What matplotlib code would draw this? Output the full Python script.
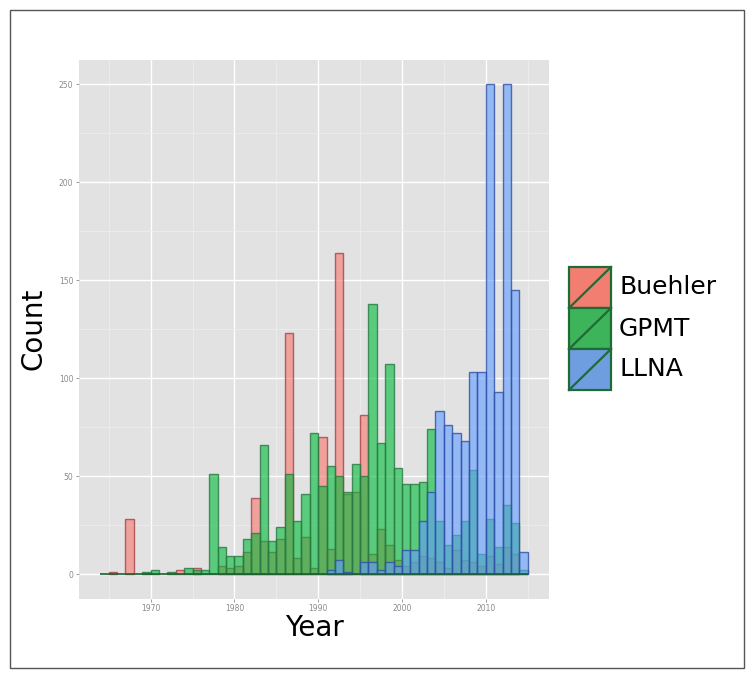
"""
Overlaid yearly histograms (Buehler, GPMT, LLNA), ggplot2-like look.
"""

import numpy as np
import matplotlib.pyplot as plt
from matplotlib.patches import Rectangle
from matplotlib.lines import Line2D

plt.rcParams.update({
    'font.family': 'DejaVu Sans',
})

# ---------------------------------------------------------------------------
# Data (counts per year, bins [year, year + 1))
# ---------------------------------------------------------------------------
years = list(range(1964, 2015))

buehler = [0, 1, 0, 28, 0, 0, 0, 0, 0, 2,
           0, 3, 0, 0, 4, 3, 4, 11, 39, 17,
           11, 18, 123, 8, 19, 3, 70, 13, 164, 41,
           42, 81, 10, 23, 15, 7, 4, 6, 9, 8,
           6, 3, 12, 7, 6, 4, 9, 5, 14, 10,
           0]

gpmt = [0, 0, 0, 0, 0, 1, 2, 0, 1, 0,
        3, 2, 2, 51, 14, 9, 9, 18, 21, 66,
        17, 24, 51, 27, 41, 72, 45, 55, 50, 42,
        56, 50, 138, 67, 107, 54, 46, 46, 47, 74,
        27, 15, 20, 27, 53, 10, 28, 14, 35, 26,
        2]

llna = [0, 0, 0, 0, 0, 0, 0, 0, 0, 0,
        0, 0, 0, 0, 0, 0, 0, 0, 0, 0,
        0, 0, 0, 0, 0, 0, 0, 2, 7, 1,
        0, 6, 6, 2, 6, 4, 12, 12, 27, 42,
        83, 76, 72, 68, 103, 103, 250, 93, 250, 145,
        11]

groups = ["Buehler", "GPMT", "LLNA"]
fills = ["#F8766D", "#00BA38", "#619CFF"]
edges = ["#A8424A", "#2A7A44", "#3050A8"]

x_ticks = [1970, 1980, 1990, 2000, 2010]
y_ticks = [0, 50, 100, 150, 200, 250]

# ---------------------------------------------------------------------------
W, H = 754, 678
fig = plt.figure(figsize=(W / 100, H / 100), dpi=100, facecolor="white")

# panel in pixels: left 79, right 549, top 59.5, bottom 598.5
ax = fig.add_axes([79 / W, 1 - 598.5 / H, (549 - 79) / W, (598.5 - 59.5) / H])
ax.set_facecolor("#E2E2E2")

x0, x1 = years[0], years[-1] + 1
span = x1 - x0
ax.set_xlim(x0 - 0.05 * span, x1 + 0.05 * span)
ax.set_ylim(-12.5, 262.5)

# grid
ax.set_xticks(x_ticks)
ax.set_yticks(y_ticks)
ax.set_xticks(np.arange(1965, 2020, 10), minor=True)
ax.set_yticks(np.arange(25, 250, 50), minor=True)
ax.grid(which="major", color="white", lw=1.0, zorder=0)
ax.grid(which="minor", color="#EFEFEF", lw=0.5, zorder=0)
ax.set_axisbelow(True)

# bars, drawn in group order so later groups sit on top
for vals, fc, ec in zip([buehler, gpmt, llna], fills, edges):
    v = np.array(vals, dtype=float)
    yrs = np.array(years, dtype=float)
    keep = v > 0
    ax.bar(yrs[keep], v[keep], width=1.0, align="edge",
           facecolor=fc + "99", edgecolor=ec + "D0", linewidth=1.0, zorder=2)

# zero-count bins leave a baseline, as in ggplot
ax.plot([x0, x1], [0, 0], color="#1E5E30", lw=1.2, zorder=3,
        solid_capstyle="butt")

for s in ax.spines.values():
    s.set_visible(False)

ax.tick_params(axis="both", which="major", length=2.5, width=0.6,
               color="#8A8A8A", labelcolor="#8A8A8A", labelsize=5.5, pad=1.5)
ax.tick_params(axis="both", which="minor", length=0)

ax.set_xlabel("Year", fontsize=20, labelpad=1)
ax.set_ylabel("Count", fontsize=20, labelpad=8)

# ---------------------------------------------------------------------------
# overlay in pixel coordinates: legend + outer frame
ov = fig.add_axes([0, 0, 1, 1], facecolor="none")
ov.set_xlim(0, W)
ov.set_ylim(H, 0)
ov.axis("off")

ov.add_patch(Rectangle((10, 10), 734, 658, fill=False, edgecolor="#555555", lw=1.0))

key_x, key_w, key_h, key_top = 569, 42, 41, 267
legend_edge = "#1E6B35"
key_fills = ["#F27E72", "#3DB35A", "#6E9EE0"]
for i, (name, fc) in enumerate(zip(groups, key_fills)):
    ky = key_top + i * key_h
    ov.add_patch(Rectangle((key_x, ky), key_w, key_h, facecolor=fc,
                           edgecolor=legend_edge, lw=1.6))
    ov.add_line(Line2D([key_x, key_x + key_w], [ky + key_h, ky],
                       color=legend_edge, lw=1.6))
    ov.text(key_x + key_w + 8, ky + key_h / 2, name, fontsize=18,
            ha="left", va="center", color="black")

fig.savefig("out.png", dpi=100, facecolor="white")
